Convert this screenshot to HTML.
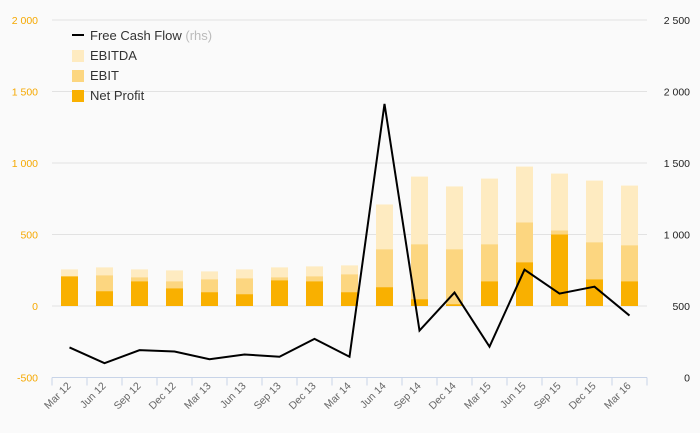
<!DOCTYPE html>
<html><head><meta charset="utf-8"><style>
body{margin:0;background:#fafafa;font-family:"Liberation Sans",sans-serif}
svg{display:block}
</style></head><body>
<svg id="chart" width="700" height="433" viewBox="0 0 700 433" xmlns="http://www.w3.org/2000/svg">
<rect width="700" height="433" fill="#fafafa"/>
<g id="grid"></g><g id="bars"></g><g id="line"></g><g id="axes"></g>
<g font-size="13" fill="#333">
<line x1="72" y1="35" x2="84" y2="35" stroke="#000" stroke-width="2"/>
<text x="90" y="40">Free Cash Flow <tspan fill="#bbb">(rhs)</tspan></text>
<rect x="72" y="50" width="12" height="12" fill="#feebc1"/>
<text x="90" y="60">EBITDA</text>
<rect x="72" y="70" width="12" height="12" fill="#fcd680"/>
<text x="90" y="80">EBIT</text>
<rect x="72" y="90" width="12" height="12" fill="#f9b000"/>
<text x="90" y="100">Net Profit</text>
</g>
</svg>
<script>
const categories=["Mar 12","Jun 12","Sep 12","Dec 12","Mar 13","Jun 13","Sep 13","Dec 13","Mar 14","Jun 14","Sep 14","Dec 14","Mar 15","Jun 15","Sep 15","Dec 15","Mar 16"];
const ebitda=[256,270,256,249,242,256,270,277,284,710,905,836,891,975,926,877,842];
const ebit=[207,214,200,172,186,193,200,207,221,396,431,396,431,584,528,445,424];
const netProfit=[207,103,172,123,96,82,179,172,96,131,47,12,172,305,500,186,172];
const fcf=[210,100,191,182,128,161,145,270,145,1913,328,594,216,754,587,635,433];
const leftTicks=[-500,0,500,1000,1500,2000];
const rightTicks=[0,500,1000,1500,2000,2500];
const leftTickLabels=["-500","0","500","1 000","1 500","2 000"];
const rightTickLabels=["0","500","1 000","1 500","2 000","2 500"];

const NS="http://www.w3.org/2000/svg";
const X0=52,BAND=35,TOP=20,BOT=377.5;
const yL=v=>BOT-(v+500)/2500*(BOT-TOP);
const yR=v=>BOT-v/2500*(BOT-TOP);
const xC=i=>X0+BAND*(i+0.5);
function mk(tag,attrs,parent){const e=document.createElementNS(NS,tag);for(const k in attrs)e.setAttribute(k,attrs[k]);parent.appendChild(e);return e;}
const grid=document.getElementById('grid'),bars=document.getElementById('bars'),line=document.getElementById('line'),axes=document.getElementById('axes');
leftTicks.forEach((t,i)=>{
 if(t>-500){const g=mk('line',{x1:X0,x2:647,y1:yL(t),y2:yL(t),stroke:'#e2e2e2','stroke-width':1},grid);
 
 }
 const tx=mk('text',{x:38,y:yL(t)+4,'text-anchor':'end','font-size':10.5,fill:'#f5a800'},axes);tx.textContent=leftTickLabels[i];
 
 
});
rightTicks.forEach((t,i)=>{
 const tx=mk('text',{x:690,y:yR(t)+4,'text-anchor':'end','font-size':10.5,fill:'#222'},axes);tx.textContent=rightTickLabels[i];
 
 
});
const bw=17;
categories.forEach((c,i)=>{
 const x=xC(i)-bw/2,z=yL(0);
 [[ebitda,'#feebc1','bar-ebitda'],[ebit,'#fcd680','bar-ebit'],[netProfit,'#f9b000','bar-net-profit']].forEach(([arr,col,nm])=>{
  const v=arr[i];const r=mk('rect',{x:x,y:Math.min(yL(v),z),width:bw,height:Math.abs(z-yL(v)),fill:col},bars);
  
  
 });
 const tk=mk('line',{x1:X0+BAND*i,x2:X0+BAND*i,y1:BOT,y2:BOT+8,stroke:'#c8d4e8'},axes);
 
 
 const lx=xC(i)+2,ly=BOT+9;
 const tx=mk('text',{x:lx,y:ly,'text-anchor':'end','font-size':10.5,fill:'#666',transform:`rotate(-45 ${lx} ${ly})`},axes);tx.textContent=c;
 
 
});
const tk=mk('line',{x1:647,x2:647,y1:BOT,y2:BOT+8,stroke:'#c8d4e8'},axes);


const ax=mk('line',{x1:X0,x2:647,y1:BOT,y2:BOT,stroke:'#c8d4e8'},axes);


const p=mk('polyline',{points:fcf.map((v,i)=>xC(i)+','+yR(v)).join(' '),fill:'none',stroke:'#000','stroke-width':2,'stroke-linejoin':'miter'},line);


</script>
</body></html>
